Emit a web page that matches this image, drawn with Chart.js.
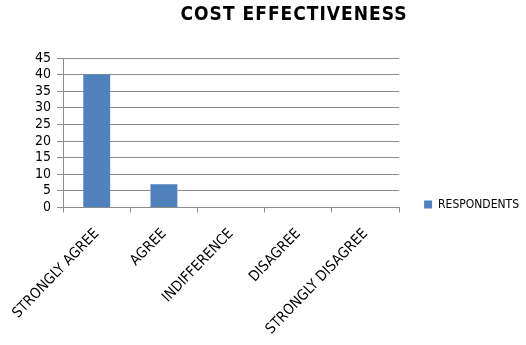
<!DOCTYPE html>
<html>
<head>
<meta charset="utf-8">
<script src="https://cdn.jsdelivr.net/npm/chart.js@4"></script>
<style>
  html, body { margin: 0; padding: 0; background: #fff; }
  #wrap { width: 526px; height: 345px; }
</style>
</head>
<body>
<div id="wrap"><canvas id="myChart" width="526" height="345"></canvas></div>
<script>
var categories = ['STRONGLY AGREE', 'AGREE', 'INDIFFERENCE', 'DISAGREE', 'STRONGLY DISAGREE'];
var respondents = [40, 7, 0, 0, 0];
var yTicks = [0, 5, 10, 15, 20, 25, 30, 35, 40, 45];

var FONT = '"Liberation Sans Narrow", "DejaVu Sans Condensed", sans-serif';

// title is drawn by hand so it can sit right of centre, over the plot + legend
var titlePlugin = {
    id: 'costTitle',
    afterDraw: function (chart) {
        var c = chart.ctx;
        c.save();
        c.font = 'bold 19px ' + FONT;
        c.letterSpacing = '1px';
        c.fillStyle = '#000';
        c.textAlign = 'center';
        c.textBaseline = 'middle';
        c.fillText('COST EFFECTIVENESS', 294, 15);
        c.restore();
    }
};

var ctx = document.getElementById('myChart').getContext('2d');
var myChart = new Chart(ctx, {
    type: 'bar',
    data: {
        labels: categories,
        datasets: [{
            label: 'RESPONDENTS',
            data: respondents,
            backgroundColor: '#4F81BD',
            borderWidth: 0,
            barPercentage: 0.8,
            categoryPercentage: 0.5
        }]
    },
    options: {
        responsive: false,
        maintainAspectRatio: false,
        animation: false,
        // negative padding: the rotated labels reserve more room than they use
        layout: { padding: { top: 58, left: -11, right: -3, bottom: -6 } },
        plugins: {
            title: { display: false },
            tooltip: { enabled: false },
            legend: {
                position: 'right',
                labels: {
                    boxWidth: 8,
                    boxHeight: 8,
                    padding: 25,
                    color: '#000',
                    font: { family: FONT, size: 12 }
                }
            }
        },
        scales: {
            x: {
                grid: {
                    offset: true,
                    drawOnChartArea: false,
                    drawTicks: true,
                    tickLength: 5,
                    color: '#8c8c8c'
                },
                border: { color: '#8c8c8c' },
                ticks: {
                    maxRotation: 46,
                    minRotation: 46,
                    padding: 13,
                    color: '#000',
                    font: { family: FONT, size: 14.5 }
                }
            },
            y: {
                min: 0,
                max: 45,
                afterBuildTicks: function (axis) {
                    axis.ticks = yTicks.map(function (v) { return { value: v }; });
                },
                grid: {
                    color: '#8c8c8c',
                    tickLength: 6
                },
                border: { color: '#8c8c8c' },
                ticks: {
                    autoSkip: false,
                    color: '#000',
                    padding: 6,
                    font: { family: FONT, size: 14 }
                }
            }
        }
    },
    plugins: [titlePlugin]
});
</script>
</body>
</html>
